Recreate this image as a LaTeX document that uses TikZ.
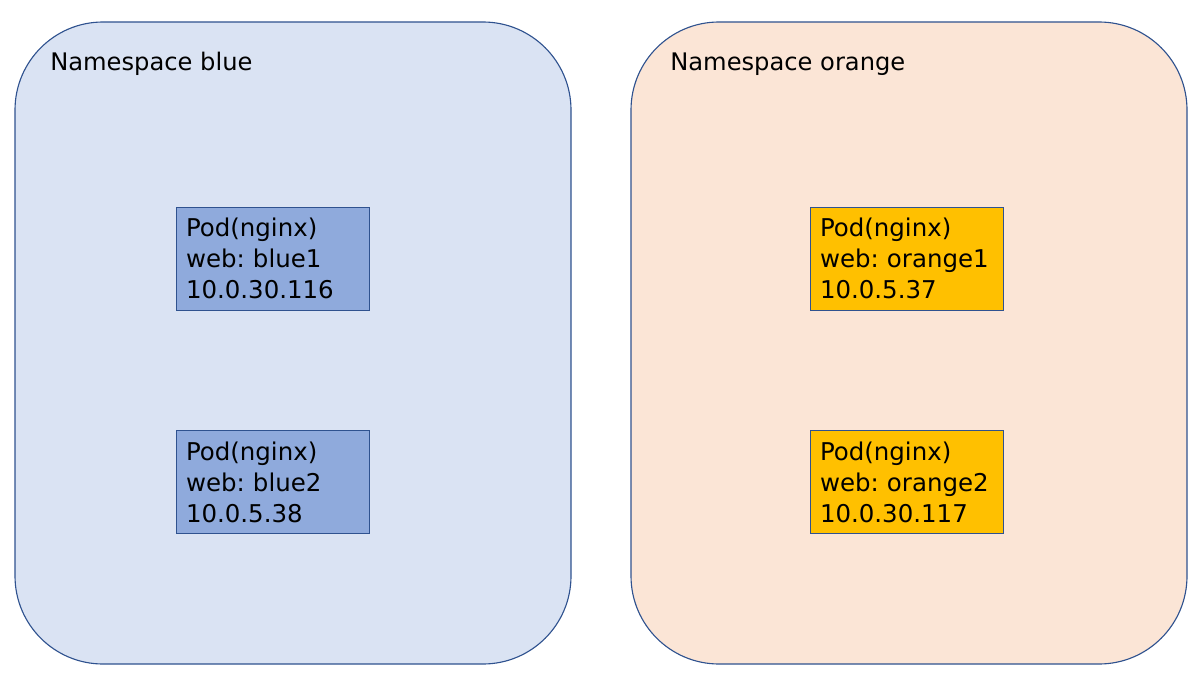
\documentclass[tikz,border=0pt]{standalone}
\usepackage{fontspec}
\setmainfont{DejaVu Sans}
\usepackage{xcolor}
\usepackage{tikz}
\usetikzlibrary{positioning}
\definecolor{nsline}{RGB}{47, 82, 143}
\definecolor{nsbluefill}{RGB}{218, 227, 243}
\definecolor{nsorangefill}{RGB}{251, 229, 214}
\definecolor{podblue}{RGB}{143, 170, 220}
\definecolor{podorange}{RGB}{255, 192, 0}
\frenchspacing

\begin{document}
\begin{tikzpicture}[
    namespace/.style={draw=nsline, line width=0.8pt, rounded corners=2.2cm,
          minimum width=13.9cm, minimum height=16.05cm, inner sep=0pt},
    nslabel/.style={anchor=base west, inner sep=0pt, font=\fontsize{17.2}{21}\selectfont},
    pod/.style={draw=nsline, line width=0.6pt, minimum width=4.825cm, minimum height=2.575cm,
          inner xsep=0.25cm, text width=4.325cm, align=left,
          font=\fontsize{17.4}{22}\selectfont}
]
    \useasboundingbox (0,0) rectangle (30,16.875);

    % namespaces
    \node[namespace, fill=nsbluefill] (nsblue) at (7.325,8.3) {};
    \node[namespace, fill=nsorangefill] (nsorange) at (22.725,8.3) {};
    \node[nslabel] (lblblue) at (1.25,15.1) {Namespace blue};
    \node[nslabel] (lblorange) at (16.75,15.1) {Namespace orange};

    % pods
    \node[pod, fill=podblue] (blue1) at (6.8125,10.4125) {Pod(nginx)\\web: blue1\\10.0.30.116};
    \node[pod, fill=podblue, below=3cm of blue1] (blue2) {Pod(nginx)\\web: blue2\\10.0.5.38};
    \node[pod, fill=podorange] (orange1) at (22.6625,10.4125) {Pod(nginx)\\web: orange1\\10.0.5.37};
    \node[pod, fill=podorange, below=3cm of orange1] (orange2) {Pod(nginx)\\web: orange2\\10.0.30.117};
\end{tikzpicture}
\end{document}
